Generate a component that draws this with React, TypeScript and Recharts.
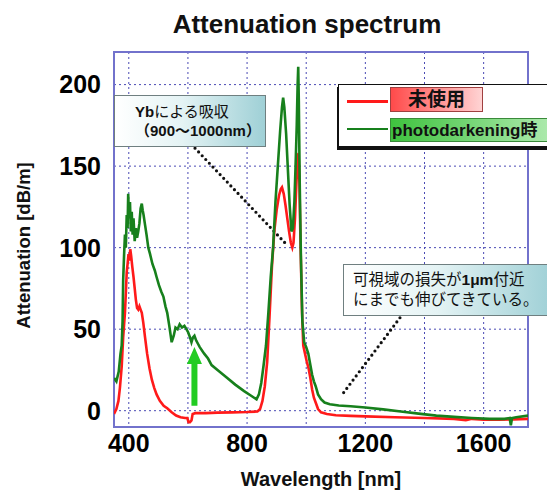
import { LineChart, Line, XAxis, YAxis, CartesianGrid, ReferenceLine, ReferenceArea, Label } from 'recharts';

const FONT = '"Liberation Sans", Arial, "Noto Sans CJK JP", sans-serif';

// 未使用 (red)
const redNm = [350, 358, 365, 370, 376, 381, 387, 390, 393, 396, 399, 402, 405, 408, 412, 416, 420, 424, 428, 432, 436, 440, 444, 449, 455, 462, 470, 478, 486, 494, 505, 518, 530, 545, 560, 575, 590, 598, 602, 607, 612, 616, 625, 660, 700, 750, 800, 835, 844, 852, 860, 868, 876, 884, 892, 900, 908, 914, 918, 924, 930, 936, 942, 948, 953, 957, 962, 967, 971, 974, 977, 981, 986, 990, 996, 1002, 1008, 1014, 1020, 1026, 1032, 1040, 1050, 1070, 1100, 1150, 1200, 1300, 1400, 1500, 1540, 1560, 1600, 1650, 1700, 1750];
const redDb = [-2, 1, 6, 14, 27, 45, 60, 72, 85, 90, 96, 92, 99, 95, 88, 82, 75, 68, 63, 62, 64, 62, 60, 54, 45, 35, 26, 19, 14, 10, 6, 3, 1.5, -1, -3, -4, -4.5, -4.5, -7, -7, -6, -2, -1.5, -1.5, -1.2, -1, -0.8, -0.5, 1, 6, 15, 30, 58, 88, 110, 123, 132, 136, 137, 133, 126, 118, 110, 103, 100, 103, 118, 140, 155, 158, 140, 100, 60, 40, 35, 30, 26, 20, 13, 8, 5, 1, -1, -2, -2.8, -3.2, -3.5, -4, -4.5, -5, -5.8, -5, -5.5, -5.5, -5.3, -5];

// photodarkening時 (green)
const greenNm = [350, 358, 366, 372, 376, 379, 381, 384, 387, 390, 393, 396, 398, 401, 404, 407, 410, 413, 416, 420, 424, 428, 432, 436, 440, 444, 447, 450, 455, 460, 466, 472, 480, 488, 494, 502, 510, 517, 524, 530, 537, 545, 552, 558, 565, 572, 580, 588, 595, 601, 607, 612, 617, 622, 628, 640, 655, 668, 680, 700, 730, 760, 790, 815, 832, 840, 848, 856, 864, 872, 880, 888, 896, 904, 912, 918, 922, 926, 932, 938, 944, 950, 955, 960, 964, 968, 971, 973, 975, 978, 982, 987, 993, 1000, 1007, 1014, 1020, 1026, 1032, 1040, 1050, 1062, 1080, 1110, 1150, 1200, 1260, 1320, 1380, 1440, 1500, 1560, 1620, 1670, 1688, 1692, 1696, 1710, 1750];
const greenDb = [20, 18, 24, 35, 40, 55, 80, 95, 108, 100, 120, 112, 133, 118, 128, 110, 122, 108, 118, 104, 112, 106, 110, 115, 124, 127, 123, 120, 114, 108, 100, 96, 90, 86, 82, 77, 73, 70, 64, 60, 52, 42, 46, 51, 50, 53, 51, 52, 50, 48, 45, 42, 45, 46, 43, 39, 35, 32, 28, 25, 20.5, 16, 12, 9, 7, 10, 17, 28, 40, 60, 82, 100, 128, 150, 172, 186, 192, 186, 170, 148, 126, 110, 112, 128, 150, 175, 200, 211, 190, 140, 95, 55, 42, 39, 35, 28, 22, 18, 15, 10, 7, 5, 4, 3.2, 2.7, 2, 0.8, -0.5, -1.8, -3, -3.8, -4.5, -5, -5, -4.5, -9, -4.5, -4, -3];

const xTicks = [400, 600, 800, 1000, 1200, 1400, 1600];
const yTicks = [0, 50, 100, 150, 200];

const redData = redNm.map((nm, i) => ({ nm, db: redDb[i] }));
const greenData = greenNm.map((nm, i) => ({ nm, db: greenDb[i] }));

const tickStyle = { fill: '#000', fontSize: 25, fontWeight: 700, fontFamily: FONT };

// 緑の矢印（ReferenceLineの座標から描く）
function ArrowShape(p: any) {
  const { x1, y1, x2, y2 } = p;
  const top = Math.min(y1, y2);
  const bottom = Math.max(y1, y2);
  const x = x1;
  const headLen = 17;
  const pts = [
    [x - 3, bottom], [x + 3, bottom], [x + 3, top + headLen], [x + 7.5, top + headLen],
    [x, top], [x - 7.5, top + headLen], [x - 3, top + headLen],
  ].map((q) => q.join(',')).join(' ');
  return <polygon points={pts} fill="#22cc22" />;
}

const noteBox = {
  position: 'absolute' as const,
  background: 'linear-gradient(to right, #ffffff 0%, #e4f3f4 45%, #9fd0d6 100%)',
  border: '1px solid #6f7f80',
  boxSizing: 'border-box' as const,
  color: '#111',
  fontFamily: FONT,
};

export default function App() {
  return (
    <div style={{ position: 'absolute', left: 0, top: 0, width: 547, height: 490, overflow: 'hidden', background: '#fff', fontFamily: FONT }}>
      <div style={{ position: 'absolute', left: 307, top: 11, transform: 'translateX(-50%)', fontSize: 26, fontWeight: 700, lineHeight: '26px', whiteSpace: 'nowrap', color: '#111' }}>
        Attenuation spectrum
      </div>

      <LineChart width={547} height={490} margin={{ top: 52, right: 19, bottom: 0, left: 0 }}>
        <CartesianGrid stroke="#4a4ab4" strokeDasharray="2 3" />
        <XAxis
          dataKey="nm"
          type="number"
          domain={[350, 1750]}
          allowDataOverflow
          ticks={xTicks}
          tickFormatter={(v) => (v % 400 === 0 ? String(v) : '')}
          tick={tickStyle}
          tickLine={false}
          axisLine={false}
          tickSize={0}
          tickMargin={7}
          height={63}
          interval={0}
        >
          <Label value="Wavelength [nm]" position="insideBottom" offset={4} style={{ fontSize: 20, fontWeight: 700, fill: '#111', fontFamily: FONT }} />
        </XAxis>
        <YAxis
          type="number"
          domain={[-10, 220]}
          allowDataOverflow
          ticks={yTicks}
          tick={tickStyle}
          tickLine={false}
          axisLine={false}
          tickSize={0}
          tickMargin={13}
          width={114}
          interval={0}
        >
          <Label value="Attenuation [dB/m]" angle={-90} position="insideLeft" offset={23} dy={6} style={{ textAnchor: 'middle', fontSize: 18.5, fontWeight: 700, fill: '#111', fontFamily: FONT }} />
        </YAxis>
        <ReferenceArea x1={350} x2={1750} y1={-10} y2={220} fill="none" stroke="#7272cc" strokeWidth={2} />
        <ReferenceLine segment={[{ x: 624, y: 161 }, { x: 928, y: 103 }]} stroke="#111" strokeWidth={3.2} strokeDasharray="0 5.2" strokeLinecap="round" />
        <ReferenceLine segment={[{ x: 1317, y: 57 }, { x: 1124, y: 10.5 }]} stroke="#111" strokeWidth={3.2} strokeDasharray="0 5.2" strokeLinecap="round" />
        <ReferenceLine segment={[{ x: 622, y: 3 }, { x: 622, y: 39 }]} shape={ArrowShape} />
        <Line data={redData} dataKey="db" type="linear" stroke="#ff1a1a" strokeWidth={2.6} dot={false} isAnimationActive={false} />
        <Line data={greenData} dataKey="db" type="linear" stroke="#17801c" strokeWidth={2.6} dot={false} isAnimationActive={false} />
      </LineChart>

      {/* 注釈 1 */}
      <div style={{ ...noteBox, left: 114, top: 95, width: 152, height: 52, padding: '6px 0 0 20px', fontSize: 15, lineHeight: '19px' }}>
        <div><b>Yb</b>による吸収</div>
        <div style={{ fontWeight: 700 }}>（900〜1000nm）</div>
      </div>

      {/* 注釈 2 */}
      <div style={{ ...noteBox, left: 343, top: 264, width: 210, height: 52, padding: '5px 0 0 9px', fontSize: 15.5, lineHeight: '20px', whiteSpace: 'nowrap' }}>
        <div>可視域の損失が<b>1μm</b>付近</div>
        <div>にまでも伸びてきている。</div>
      </div>

      {/* 凡例 */}
      <div style={{ position: 'absolute', left: 338, top: 84, width: 230, height: 63, background: '#fff', border: '1.5px solid #111', boxShadow: '-1px 3px 0 #111', boxSizing: 'border-box' }}>
        <div style={{ position: 'absolute', left: 8, top: 15, width: 41, height: 2.6, background: '#ff1a1a' }} />
        <div style={{ position: 'absolute', left: 51, top: 2, width: 93, height: 25, boxSizing: 'border-box', border: '1px solid #a04040', background: 'linear-gradient(to right, #ff4a4a, #ffd4d4)', textAlign: 'center', fontSize: 19, fontWeight: 700, lineHeight: '24px', color: '#111' }}>
          未使用
        </div>
        <div style={{ position: 'absolute', left: 8, top: 42.5, width: 41, height: 2.6, background: '#17801c' }} />
        <div style={{ position: 'absolute', left: 51, top: 33, width: 200, height: 24, boxSizing: 'border-box', border: '1px solid #3a8a3a', background: 'linear-gradient(to right, #3fc23f, #c8f3c8)', paddingLeft: 1, fontSize: 17, fontWeight: 700, lineHeight: '23px', color: '#111', whiteSpace: 'nowrap' }}>
          photodarkening時
        </div>
      </div>
    </div>
  );
}
